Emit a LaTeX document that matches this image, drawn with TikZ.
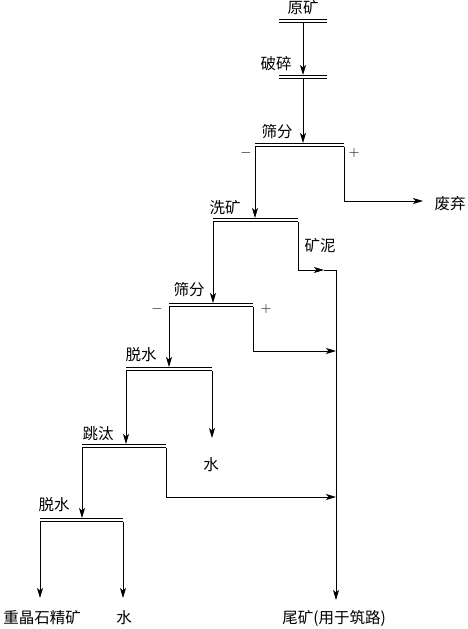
\documentclass[tikz,border=0pt]{standalone}
\usepackage{fontspec}
\newfontfamily\cjk{Noto Sans CJK SC}
\usetikzlibrary{arrows.meta}
\begin{document}
\begin{tikzpicture}[x=1pt,y=-1pt,
 conn/.style={line width=0.9pt},
 flow/.style={conn, -{Stealth[length=10pt,width=6pt,inset=2.5pt]}},
 bar/.style={line width=0.9pt, double distance=2.2pt},
 lbl/.style={font=\cjk\fontsize{15.5}{15.5}\selectfont, inner sep=0pt},
 sgn/.style={font=\fontsize{14}{14}\selectfont, inner sep=0pt}]
\useasboundingbox (0,0) rectangle (468,629);
% bars (left end, right end)
\coordinate (b0L) at (279,21);  \coordinate (b0R) at (327,21);
\coordinate (b1L) at (279,77);  \coordinate (b1R) at (327,77);
\coordinate (b2L) at (255,145); \coordinate (b2R) at (344,145);
\coordinate (b3L) at (213,220); \coordinate (b3R) at (298,220);
\coordinate (b4L) at (169,305); \coordinate (b4R) at (253,305);
\coordinate (b5L) at (126,369); \coordinate (b5R) at (212,369);
\coordinate (b6L) at (82,446);  \coordinate (b6R) at (166,446);
\coordinate (b7L) at (40,520);  \coordinate (b7R) at (123,520);
\foreach \i in {0,...,7} {\draw[bar] (b\i L) -- (b\i R);}
% feed points and ends
\coordinate (f0) at (303,23);  \coordinate (f1) at (303,75);
\coordinate (f1b) at (303,79); \coordinate (f2) at (303,143);
\coordinate (k2) at (344,201); \coordinate (w) at (423,201);
\coordinate (k3) at (298,270); \coordinate (m3) at (324,270);
\coordinate (t0) at (336,270); \coordinate (tend) at (336,600);
\coordinate (k4) at (253,351); \coordinate (j4) at (336,351);
\coordinate (k6) at (166,497); \coordinate (j6) at (336,497);
\coordinate (e5) at (212,438);
\coordinate (e7L) at (40,598); \coordinate (e7R) at (123,598);
% labels
\node[lbl] (ykuang) at (303,8) {原矿};
\node[lbl] (posui) at (276,64) {破碎};
\node[lbl] (shai1) at (277,132) {筛分};
\node[sgn] (m1) at (246,153) {$-$};
\node[sgn] (p1) at (354,153) {$+$};
\node[lbl] (feiqi) at (450,204) {废弃};
\node[lbl] (xikuang) at (225,208) {洗矿};
\node[lbl] (kuangni) at (320,246) {矿泥};
\node[lbl] (shai2) at (189,290) {筛分};
\node[sgn] (m2) at (157,309) {$-$};
\node[sgn] (p2) at (266,309) {$+$};
\node[lbl] (tuoshui1) at (141,355) {脱水};
\node[lbl] (shui1) at (211,465) {水};
\node[lbl] (tiaotai) at (98,434) {跳汰};
\node[lbl] (tuoshui2) at (54,505) {脱水};
\node[lbl] (jingkuang) at (42,618) {重晶石精矿};
\node[lbl] (shui2) at (124,618) {水};
\node[lbl] (weikuang) at (334,618) {尾矿(用于筑路)};
% connectors
\draw[flow] (f0) -- (f1);
\draw[flow] (f1b) -- (f2);
\draw[flow] (b2L |- 0,147) -- (b2L |- 0,218);
\draw[conn] (b2R |- 0,147) -- (k2);
\draw[flow] (k2) -- (w);
\draw[flow] (b3L |- 0,222) -- (b3L |- 0,303);
\draw[conn] (b3R |- 0,222) -- (k3);
\draw[flow] (k3) -- (m3);
\draw[conn] (m3) -- (t0);
\draw[flow] (t0) -- (tend);
\draw[flow] (b4L |- 0,307) -- (b4L |- 0,367);
\draw[conn] (b4R |- 0,307) -- (k4);
\draw[flow] (k4) -- (j4);
\draw[flow] (b5L |- 0,371) -- (b5L |- 0,444);
\draw[flow] (b5R |- 0,371) -- (e5);
\draw[flow] (b6L |- 0,448) -- (b6L |- 0,518);
\draw[conn] (b6R |- 0,448) -- (k6);
\draw[flow] (k6) -- (j6);
\draw[flow] (b7L |- 0,522) -- (e7L);
\draw[flow] (b7R |- 0,522) -- (e7R);
\end{tikzpicture}
\end{document}
